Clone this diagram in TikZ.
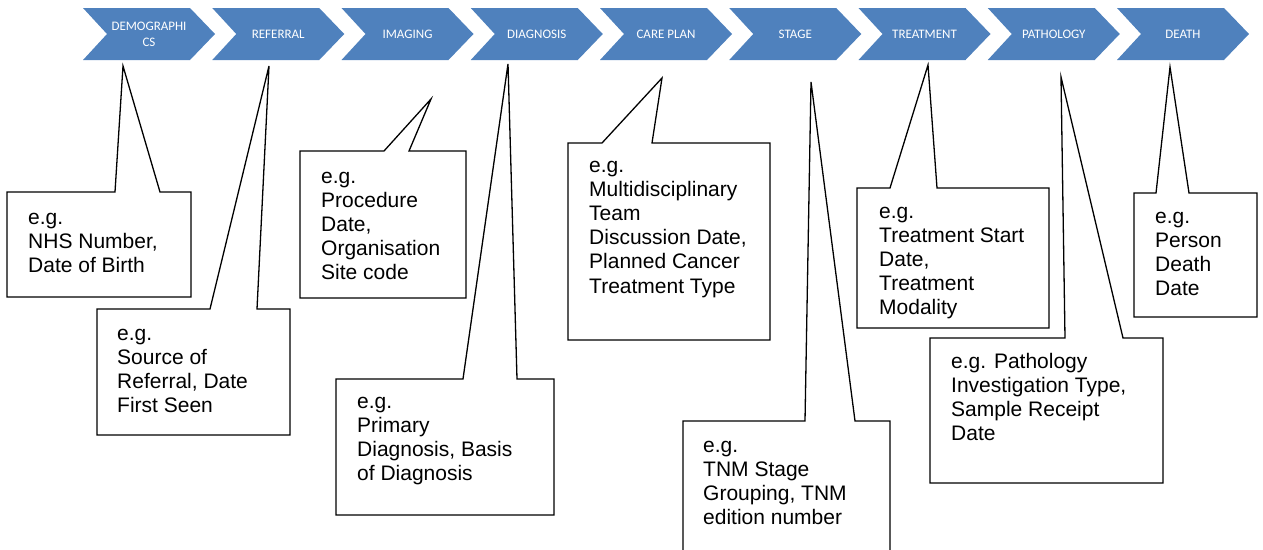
\documentclass[tikz,border=0pt]{standalone}
\usepackage{fontspec}
\setmainfont{Liberation Sans}
\newfontfamily\calib{Carlito}
\definecolor{chevblue}{RGB}{79,129,189}
\newcommand\chevshape[3]{%
  \fill[chev] (#2,8) -- ++(107,0) -- ++(25,26) -- ++(-25,26) -- ++(-107,0) -- ++(24,-26) -- cycle;
  \node[chevtext] (#1) at (#2+66,34) {#3};
}
\begin{document}
\begin{tikzpicture}[x=1pt,y=-1pt,
  chev/.style={fill=chevblue, draw=none},
  chevtext/.style={text=white, font=\calib\fontsize{13}{16}\selectfont, align=center, inner sep=0},
  callout/.style={draw=black, fill=white, line width=1.3pt, line join=miter},
  note/.style={anchor=base west, inner sep=0, font=\fontsize{21}{24.2}\selectfont}]
\useasboundingbox (0,0) rectangle (1263,549);
\clip (0,0) rectangle (1263,549);

% chevrons
\chevshape{demo}{83}{DEMOGRAPHI\\CS}
\chevshape{refer}{212.25}{REFERRAL}
\chevshape{imag}{341.5}{IMAGING}
\chevshape{diag}{470.75}{DIAGNOSIS}
\chevshape{care}{600}{CARE PLAN}
\chevshape{stage}{729.25}{STAGE}
\chevshape{treat}{858.5}{TREATMENT}
\chevshape{path}{987.75}{PATHOLOGY}
\chevshape{death}{1117}{DEATH}

% callouts
\draw[callout] (7,192) -- (115,192) -- (123,66) -- (160,192) -- (191,192) -- (191,297) -- (7,297) -- cycle;
\draw[callout] (97,309) -- (210,309) -- (269,66) -- (257,309) -- (290,309) -- (290,435) -- (97,435) -- cycle;
\draw[callout] (300,151) -- (384,151) -- (431,99) -- (409,151) -- (466,151) -- (466,298) -- (300,298) -- cycle;
\draw[callout] (336,379) -- (463,379) -- (508,64) -- (517,379) -- (554,379) -- (554,515) -- (336,515) -- cycle;
\draw[callout] (568,143) -- (602,143) -- (662,78) -- (652,143) -- (770,143) -- (770,340) -- (568,340) -- cycle;
\draw[callout] (683,421) -- (805,421) -- (811,82) -- (855,421) -- (890,421) -- (890,565) -- (683,565) -- cycle;
\draw[callout] (857,188) -- (890,188) -- (928,65) -- (937,188) -- (1049,188) -- (1049,328) -- (857,328) -- cycle;
\draw[callout] (930,338) -- (1065,338) -- (1061,77) -- (1123,338) -- (1163,338) -- (1163,483) -- (930,483) -- cycle;
\draw[callout] (1134,193) -- (1156,193) -- (1170,67) -- (1189,193) -- (1257,193) -- (1257,317) -- (1134,317) -- cycle;

% texts
\node[note] (tdemo) at (28,224) {\parbox[t]{250pt}{\raggedright e.g.\\NHS Number,\\Date of Birth}};
\node[note] (trefer) at (117,340) {\parbox[t]{250pt}{\raggedright e.g.\\Source of\\Referral, Date\\First Seen}};
\node[note] (timag) at (321,183) {\parbox[t]{250pt}{\raggedright e.g.\\Procedure\\Date,\\Organisation\\Site code}};
\node[note] (tdiag) at (357,408) {\parbox[t]{250pt}{\raggedright e.g.\\Primary\\Diagnosis, Basis\\of Diagnosis}};
\node[note] (tcare) at (589,172) {\parbox[t]{250pt}{\raggedright e.g.\\Multidisciplinary\\Team\\Discussion Date,\\Planned Cancer\\Treatment Type}};
\node[note] (tstage) at (703,452) {\parbox[t]{250pt}{\raggedright e.g.\\TNM Stage\\Grouping, TNM\\edition number}};
\begin{scope}
\clip (857,188) rectangle (1049,318);
\node[note] (ttreat) at (879,218) {\parbox[t]{250pt}{\raggedright e.g.\\Treatment Start\\Date,\\Treatment\\Modality}};
\end{scope}
\node[note] (tpath) at (951,368) {\parbox[t]{250pt}{\raggedright e.g. Pathology\\Investigation Type,\\Sample Receipt\\Date}};
\node[note] (tdeath) at (1155,223) {\parbox[t]{250pt}{\raggedright e.g.\\Person\\Death\\Date}};
\end{tikzpicture}
\end{document}
